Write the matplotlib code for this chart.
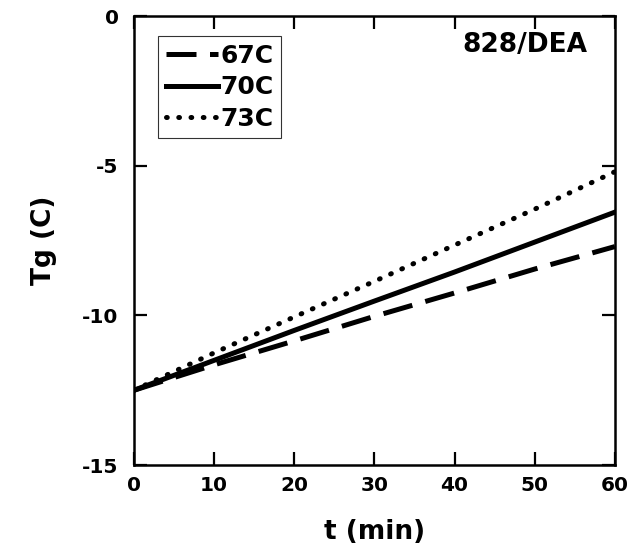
import matplotlib
matplotlib.use("Agg")
import matplotlib.pyplot as plt

plt.rcParams['font.family'] = ['DejaVu Sans']
plt.rcParams['font.weight'] = 'bold'
plt.rcParams['axes.unicode_minus'] = False

t = [0, 10, 20, 30, 40, 50, 60]
tg_67 = [-12.5, -11.65, -10.85, -10.03, -9.25, -8.45, -7.7]
tg_70 = [-12.5, -11.5, -10.5, -9.52, -8.55, -7.55, -6.55]
tg_73 = [-12.5, -11.25, -10.05, -8.86, -7.65, -6.45, -5.2]
labels = ['67C', '70C', '73C']
xticks = [0, 10, 20, 30, 40, 50, 60]
yticks = [-15, -10, -5, 0]

fig = plt.figure(figsize=(6.3, 5.55), dpi=100)
ax = fig.add_axes([0.2127, 0.162, 0.7633, 0.809])

lw = 3.6
ax.plot(t, tg_67, color='black', lw=lw, linestyle=(0, (6, 2.7)), label=labels[0])
ax.plot(t, tg_70, color='black', lw=lw, linestyle='-', label=labels[1])
ax.plot(t, tg_73, color='black', lw=lw, linestyle=(0, (0.15, 2.3)),
        dash_capstyle='round', label=labels[2])

ax.set_xlim(0, 60)
ax.set_ylim(-15, 0)
ax.set_xticks(xticks)
ax.set_yticks(yticks)
ax.tick_params(direction='in', length=9.5, width=1.6, top=True, right=True,
               labelsize=14.5)
ax.tick_params(axis='x', pad=8)
ax.tick_params(axis='y', pad=11)
for lab in ax.get_xticklabels() + ax.get_yticklabels():
    lab.set_fontweight('bold')
for s in ax.spines.values():
    s.set_linewidth(1.8)

ax.set_xlabel('t (min)', fontsize=19, fontweight='bold', labelpad=17)
ax.set_ylabel('Tg (C)', fontsize=19, fontweight='bold', labelpad=18)

ax.text(0.942, 0.935, '828/DEA', transform=ax.transAxes, ha='right', va='center',
        fontsize=19, fontweight='bold')

leg = ax.legend(loc='upper left', bbox_to_anchor=(0.05, 0.955), fontsize=18,
                handlelength=2.1, handletextpad=0.1, labelspacing=0.3,
                borderpad=0.3, borderaxespad=0, fancybox=False, frameon=True)
leg.get_frame().set_edgecolor('black')
leg.get_frame().set_linewidth(0.8)
for txt in leg.get_texts():
    txt.set_fontweight('bold')

fig.savefig('out.png', dpi=100)
